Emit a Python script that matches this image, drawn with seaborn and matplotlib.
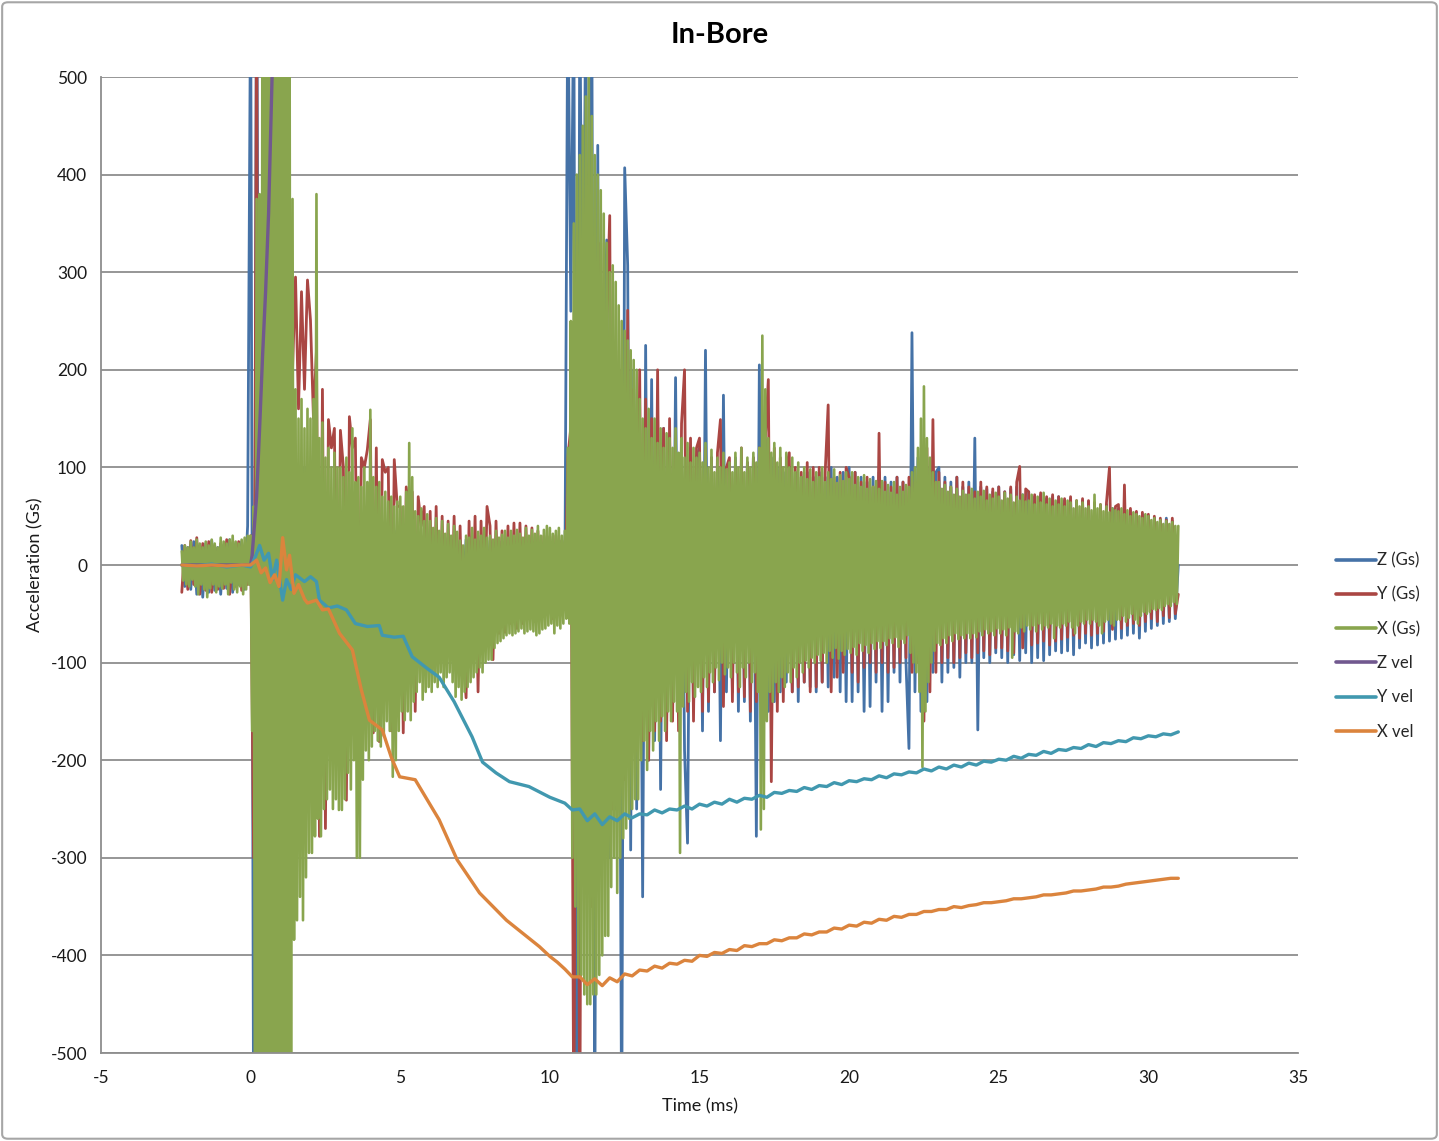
import numpy as np
import matplotlib
matplotlib.use("Agg")
import matplotlib.pyplot as plt
import seaborn as sns
from matplotlib.lines import Line2D
from matplotlib.patches import FancyBboxPatch

# ---- sampling of the acceleration channels ----
T0 = -2.3      # first sample time (ms)
DT = 0.1       # sample spacing (ms)

# Z (Gs)
z_gs = [
    20, -22, 18,
    -25, 24, -30, 20, -33, 22, -28, 25, -26, 18,
    -30, 20, -24, 26, -28, 22, -20, 24, -25, 40,
    600, -600, 700, -300, 250, -200, 200, -200, 150, -150,
    150, -150, 120, -140, 100, -120, 90, -110, 100, -100,
    90, -100, 80, -90, 70, -80, 65, -80, 60, -75,
    55, -70, 50, -65, 48, -60, 45, -58, 42, -55,
    40, -55, 40, -50, 38, -50, 35, -48, 35, -45,
    30, -45, 32, -42, 30, -40, 28, -40, 30, -38,
    28, -38, 30, -36, 27, -35, 28, -36, 26, -34,
    25, -35, 26, -33, 24, -32, 25, -30, 24, -32,
    25, -30, 23, -31, 24, -30, 22, -29, 24, -30,
    23, -28, 22, -30, 24, -28, 23, -29, 22, -27,
    24, -28, 22, -30, 25, -28, 600, 260, 600, -600,
    600, 130, 600, -300, 600, -600, 430, -250, 200, 333,
    -300, 200, -250, 150, -600, 407, 307, -292, 200, -250,
    150, -340, 225, -200, 190, -180, 150, -230, 140, -160,
    130, -150, 192, -140, 120, -190, -285, 120, -150, 110,
    120, -170, 220, -150, 110, -130, 100, -180, 174, -130,
    100, -130, 110, -150, 100, -140, 105, -160, 110, -278,
    205, -180, 128, -150, 110, -140, 100, -130, 95, -120,
    100, -130, 95, -140, 90, -120, 95, -125, 90, -130,
    95, -120, 90, -125, 100, -115, 90, -130, 95, -140,
    100, -140, 95, -130, 90, -150, 85, -145, 90, -120,
    95, -150, 90, -140, 85, -110, 90, -120, 85, -100,
    -188, 238, -130, 110, -150, 120, -140, 100, -110, 95,
    100, -120, 90, -110, 85, -105, 90, -115, 80, -100,
    85, -100, 130, -169, 80, -95, 78, -100, 75, -90,
    80, -95, 75, -100, 78, -92, 80, -98, 72, -90,
    75, -100, 70, -95, 72, -98, 68, -92, 70, -88,
    70, -90, 66, -88, 68, -92, 64, -85, 66, -80,
    65, -85, 62, -82, 60, -80, 62, -78, 58, -76,
    58, -75, 55, -72, 56, -70, 54, -75, 52, -68,
    50, -65, 48, -62, 46, -60, 48, -58, 45, -55,
    0,
]

# Y (Gs)
y_gs = [
    -28, 20, -25,
    25, -20, 28, -30, 22, -26, 24, -28, 20, -25,
    22, -24, 26, -30, 20, -22, 24, -26, 18, -20,
    30, -300, 600, -600, 377, -600, 600, 350, -400, 300,
    200, -600, 250, -400, 200, 295, 160, 280, 180, 292,
    251, 150, 220, -278, 180, -270, 149, 120, 140, -200,
    138, 100, -241, 152, 120, 130, -150, 110, 100, 118,
    149, -172, 120, -181, 108, 95, 100, -170, 108, 60,
    60, -172, 80, 50, 75, -150, 70, 40, 60, -100,
    55, -100, 60, -90, 50, -95, 45, -80, 50, -85,
    40, -90, -136, 45, -80, 50, -130, 45, -75, 60,
    40, -97, 45, -70, 35, -69, 40, -60, 43, -65,
    43, -60, 40, -55, 38, -58, 35, -55, 30, -50,
    29, -55, 30, -50, 25, -45, 110, 141, -600, 200,
    -600, 300, -300, 250, -350, 300, -280, 330, -300, 250,
    358, -250, 220, -230, 200, -220, 261, -200, 180, -190,
    200, -180, 170, -200, 150, -170, 200, -160, 140, -180,
    150, -160, 130, -170, 145, 200, -150, 130, -160, 120,
    130, -150, 120, -140, 110, -130, 115, 149, -145, 100,
    110, -140, 100, -130, 120, -135, 105, -150, 110, -140,
    120, -160, 130, 190, -222, 120, -150, 110, -140, 100,
    115, -130, 100, -125, 95, -120, 105, -130, 100, -125,
    100, -120, 95, 164, -130, 90, -115, 95, -110, 100,
    90, -110, 95, -120, 85, -105, 90, -100, 80, -110,
    135, -100, 85, -110, 80, -105, 90, -100, 85, -95,
    90, -110, 85, -100, 100, -160, 120, -130, 149, -110,
    95, -100, 85, -95, 80, -100, 90, -95, 85, -90,
    80, -95, 75, -90, 85, -88, 80, -92, 78, -85,
    80, -85, 75, -88, 80, -90, 85, 101, -85, 78,
    75, -82, 72, -80, 74, -78, 70, -82, 72, -78,
    70, -76, 68, -74, 70, -72, 66, -75, 68, -70,
    66, -72, 64, -70, 62, -68, 64, 100, -66, 60,
    62, -65, 82, -62, 58, -60, 55, -62, 54, -58,
    52, -55, 50, -58, 48, -52, 46, -54, 48, -50,
    -30,
]

# X (Gs): crest samples at T0 + i*DT, trough samples half a step later
x_gs_crest = [
    14, 20, 18,
    24, 18, 26, 22, 18, 24, 20, 26, 22, 18,
    28, 24, 22, 26, 30, 24, 22, 26, 28, 30,
    30, 60, 375, 380, 800, 900, 900, 900, 900, 900,
    900, 850, 700, 600, 375, 180, 150, 170, 140, 160,
    150, 170, 380, 130, 146, 110, 120, 100, 115, 100,
    100, 90, 110, 95, 140, 85, 90, 80, 100, 85,
    159, 90, 80, 85, 70, 75, 65, 70, 60, 65,
    70, 60, 75, 125, 90, 55, 50, 58, 45, 52,
    45, 38, 48, 35, 45, 32, 42, 30, 40, 34,
    25, 20, 30, 28, 38, 26, 34, 30, 38, 28,
    30, 26, 35, 28, 31, 35, 28, 35, 30, 36,
    32, 28, 38, 30, 36, 32, 40, 30, 36, 40,
    38, 32, 35, 38, 30, 35, 120, 250, 350, 400,
    420, 450, 480, 520, 460, 420, 400, 384, 360, 330,
    300, 307, 290, 266, 250, 240, 230, 220, 210, 200,
    170, 150, 140, 160, 130, 150, 125, 140, 120, 135,
    130, 120, 140, 115, 130, 110, 125, 105, 120, 110,
    115, 105, 125, 100, 118, 95, 110, 100, 115, 98,
    105, 95, 115, 100, 120, 95, 110, 100, 115, 105,
    120, 235, 180, 130, 115, 125, 105, 120, 100, 115,
    100, 110, 95, 105, 90, 100, 88, 98, 85, 95,
    90, 100, 85, 95, 88, 98, 84, 92, 86, 95,
    88, 95, 82, 90, 80, 92, 78, 88, 80, 86,
    78, 86, 75, 82, 74, 85, 72, 80, 75, 82,
    80, 95, 100, 120, 150, 183, 130, 110, 95, 85,
    85, 78, 82, 75, 80, 72, 78, 70, 76, 72,
    72, 78, 68, 75, 70, 76, 66, 72, 68, 74,
    70, 66, 74, 68, 72, 64, 70, 66, 72, 65,
    66, 72, 62, 70, 64, 74, 62, 68, 60, 66,
    62, 68, 60, 66, 64, 58, 66, 60, 64, 58,
    60, 56, 72, 58, 62, 55, 60, 54, 58, 56,
    55, 58, 52, 56, 50, 54, 52, 50, 48, 52,
    50, 46, 48, 44, 46, 42, 45, 42, 44, 40,
    40,
]
x_gs_trough = [
    -16, -20, -22,
    -15, -22, -30, -20, -25, -33, -24, -20, -28, -22,
    -24, -20, -30, -18, -25, -28, -22, -30, -25, -20,
    -170, -620, -700, -800, -800, -900, -900, -900, -900, -900,
    -900, -800, -700, -600, -384, -364, -340, -364, -320, -295,
    -295, -278, -260, -278, -250, -240, -230, -250, -240, -251,
    -251, -240, -213, -230, -200, -300, -300, -220, -190, -200,
    -186, -170, -180, -186, -175, -160, -170, -217, -200, -170,
    -150, -159, -150, -159, -140, -130, -120, -138, -130, -125,
    -130, -120, -125, -110, -125, -115, -110, -120, -135, -125,
    -138, -130, -125, -120, -115, -110, -105, -110, -100, -97,
    -97, -85, -80, -78, -75, -72, -70, -72, -70, -68,
    -65, -70, -68, -66, -68, -72, -70, -66, -65, -62,
    -60, -70, -62, -65, -60, -55, -60, -300, -350, -420,
    -420, -440, -450, -450, -440, -440, -420, -400, -380, -380,
    -330, -300, -336, -300, -280, -270, -260, -250, -240, -240,
    -200, -180, -210, -170, -190, -160, -180, -155, -170, -150,
    -160, -140, -150, -295, -145, -130, -140, -120, -135, -125,
    -130, -115, -125, -110, -120, -105, -118, -100, -112, -105,
    -115, -100, -110, -125, -105, -115, -100, -120, -110, -130,
    -271, -250, -160, -130, -140, -120, -130, -115, -125, -110,
    -120, -105, -115, -100, -110, -98, -105, -95, -100, -92,
    -98, -90, -100, -88, -95, -85, -96, -88, -92, -86,
    -90, -84, -92, -80, -88, -82, -90, -80, -86, -78,
    -85, -78, -82, -75, -80, -74, -84, -76, -80, -72,
    -90, -100, -110, -130, -207, -150, -120, -100, -88, -80,
    -82, -75, -80, -72, -78, -70, -76, -72, -75, -70,
    -75, -70, -74, -68, -72, -66, -70, -68, -72, -65,
    -70, -66, -72, -64, -95, -68, -70, -64, -68, -62,
    -66, -62, -68, -60, -66, -62, -64, -60, -75, -62,
    -64, -60, -62, -58, -64, -70, -62, -58, -60, -56,
    -60, -56, -58, -62, -70, -58, -56, -60, -62, -56,
    -56, -52, -58, -54, -50, -56, -60, -52, -48, -50,
    -48, -45, -46, -44, -46, -42, -40, -42, -38, -40,
]

# velocity channels: (time ms, value)
z_vel_pts = [(-2.3, 0), (-1.0, 0), (0.0, 0), (0.05, 10), (0.1, 30), (0.2, 70),
             (0.3, 140), (0.4, 215), (0.5, 280), (0.6, 360), (0.7, 480),
             (0.8, 600), (1.0, 800), (1.5, 1200)]

y_vel_pts = [(-2.3, 0), (-1.8, -1), (-1.3, 1), (-0.8, -2), (-0.3, 0), (0.0, -2),
             (0.15, 8), (0.3, 20), (0.45, 5), (0.6, 12), (0.73, -15), (0.87, 5),
             (1.07, -36), (1.2, -15), (1.35, -25), (1.5, -10), (1.8, -17),
             (2.0, -12), (2.2, -17), (2.3, -36), (2.6, -44), (2.9, -42),
             (3.2, -46), (3.5, -60), (3.9, -63), (4.3, -62), (4.4, -72),
             (4.8, -74), (5.1, -73), (5.4, -94), (5.9, -106), (6.3, -115),
             (6.8, -140), (7.4, -176), (7.75, -202), (8.2, -213), (8.65, -222),
             (9.3, -227),
             (10.0, -238), (10.25, -241), (10.5, -244), (10.75, -251), (11.0, -250),
             (11.25, -262), (11.5, -255), (11.75, -266), (12.0, -258), (12.25, -262),
             (12.5, -255), (12.75, -259), (13.0, -255), (13.25, -256), (13.5, -251),
             (13.75, -254), (14.0, -250), (14.25, -251), (14.5, -247), (14.75, -250),
             (15.0, -245), (15.25, -247), (15.5, -243), (15.75, -245), (16.0, -240),
             (16.25, -243), (16.5, -239), (16.75, -240), (17.0, -236), (17.25, -238),
             (17.5, -233), (17.75, -234), (18.0, -231), (18.25, -232), (18.5, -228),
             (18.75, -230), (19.0, -226), (19.25, -227), (19.5, -223), (19.75, -225),
             (20.0, -221), (20.25, -222), (20.5, -219), (20.75, -220), (21.0, -216),
             (21.25, -218), (21.5, -214), (21.75, -215), (22.0, -212), (22.25, -213),
             (22.5, -209), (22.75, -211), (23.0, -207), (23.25, -209), (23.5, -205),
             (23.75, -207), (24.0, -203), (24.25, -205), (24.5, -201), (24.75, -202),
             (25.0, -199), (25.25, -200), (25.5, -196), (25.75, -198), (26.0, -194),
             (26.25, -195), (26.5, -191), (26.75, -193), (27.0, -189), (27.25, -190),
             (27.5, -187), (27.75, -188), (28.0, -184), (28.25, -186), (28.5, -182),
             (28.75, -183), (29.0, -180), (29.25, -181), (29.5, -177), (29.75, -178),
             (30.0, -175), (30.25, -176), (30.5, -173), (30.75, -174), (31.0, -171)]

x_vel_pts = [(-2.3, 0), (-1.8, -1), (-1.3, 0), (-0.8, -1), (-0.3, 0), (0.0, 0),
             (0.2, 5), (0.35, -8), (0.5, -3), (0.65, -18), (0.8, -10), (0.95, -22),
             (1.07, 28), (1.2, -5), (1.3, 10), (1.45, -29), (1.6, -20), (1.8, -35),
             (1.9, -39), (2.2, -36), (2.4, -46), (2.6, -45), (2.97, -70),
             (3.4, -87), (3.7, -128), (3.97, -159), (4.4, -169), (4.7, -197),
             (4.98, -217), (5.5, -220), (6.3, -261), (6.9, -302), (7.65, -336),
             (8.55, -364), (9.65, -391),
             (10.0, -401), (10.25, -407), (10.5, -414), (10.75, -422), (11.0, -422),
             (11.25, -430), (11.5, -424), (11.75, -431), (12.0, -423), (12.25, -427),
             (12.5, -419), (12.75, -421), (13.0, -415), (13.25, -416), (13.5, -411),
             (13.75, -413), (14.0, -408), (14.25, -409), (14.5, -405), (14.75, -406),
             (15.0, -400), (15.25, -401), (15.5, -397), (15.75, -398), (16.0, -394),
             (16.25, -395), (16.5, -390), (16.75, -391), (17.0, -388), (17.25, -388),
             (17.5, -384), (17.75, -385), (18.0, -382), (18.25, -382), (18.5, -378),
             (18.75, -379), (19.0, -376), (19.25, -376), (19.5, -372), (19.75, -373),
             (20.0, -369), (20.25, -370), (20.5, -366), (20.75, -367), (21.0, -363),
             (21.25, -364), (21.5, -360), (21.75, -361), (22.0, -358), (22.25, -358),
             (22.5, -355), (22.75, -355), (23.0, -353), (23.25, -353), (23.5, -350),
             (23.75, -351), (24.0, -349), (24.25, -348), (24.5, -346), (24.75, -346),
             (25.0, -345), (25.25, -344), (25.5, -342), (25.75, -342), (26.0, -341),
             (26.25, -340), (26.5, -338), (26.75, -338), (27.0, -337), (27.25, -336),
             (27.5, -334), (27.75, -334), (28.0, -333), (28.25, -332), (28.5, -330),
             (28.75, -330), (29.0, -329), (29.25, -327), (29.5, -326), (29.75, -325),
             (30.0, -324), (30.25, -323), (30.5, -322), (30.75, -321), (31.0, -321)]

series_names = ["Z (Gs)", "Y (Gs)", "X (Gs)", "Z vel", "Y vel", "X vel"]
series_colors = ["#4572A7", "#AA4643", "#89A54E", "#71588F", "#4198AF", "#DB843D"]

x_ticks = [-5, 0, 5, 10, 15, 20, 25, 30, 35]
y_ticks = [-500, -400, -300, -200, -100, 0, 100, 200, 300, 400, 500]

title_text = "In-Bore"
x_label = "Time (ms)"
y_label = "Acceleration (Gs)"

# ---- drawing ----
sns.set_theme(style="white")
plt.rcParams['font.family'] = ['Lato', 'DejaVu Sans']

W, H = 1439, 1141
fig = plt.figure(figsize=(W / 100, H / 100), dpi=100)
fig.patch.set_facecolor("white")
ax = fig.add_axes([101 / W, 1 - 1053 / H, (1298 - 101) / W, (1053 - 77) / H])
ax.set_facecolor("white")


def grid_times(vals, offset=0.0):
    return T0 + offset + DT * np.arange(len(vals))


for vals, col in zip([z_gs, y_gs], series_colors[:2]):
    sns.lineplot(x=grid_times(vals), y=np.asarray(vals, float), ax=ax, color=col,
                 lw=2.0, estimator=None, sort=False, legend=False)

# interleave the X crest / trough samples in time order
xt = np.concatenate([grid_times(x_gs_crest), grid_times(x_gs_trough, DT / 2)])
xv = np.concatenate([np.asarray(x_gs_crest, float), np.asarray(x_gs_trough, float)])
order = np.argsort(xt, kind="stable")
sns.lineplot(x=xt[order], y=xv[order], ax=ax, color=series_colors[2],
             lw=1.9, estimator=None, sort=False, legend=False)

for pts, col in zip([z_vel_pts, y_vel_pts, x_vel_pts], series_colors[3:]):
    tt, vv = zip(*pts)
    sns.lineplot(x=np.asarray(tt), y=np.asarray(vv, float), ax=ax, color=col,
                 lw=2.4, estimator=None, sort=False, legend=False)

ax.set_xlim(-5, 35)
ax.set_ylim(-500, 500)
ax.set_xticks(x_ticks)
ax.set_yticks(y_ticks)
ax.set_xticklabels([str(v) for v in x_ticks])
ax.set_yticklabels([str(v) for v in y_ticks])
ax.set_xlabel("")
ax.set_ylabel("")
ax.set_axisbelow(True)
ax.yaxis.grid(True, color="#8E8E8E", lw=1.3)
ax.xaxis.grid(False)
for side in ["top", "right"]:
    ax.spines[side].set_visible(False)
for side in ["left", "bottom"]:
    ax.spines[side].set_color("#8E8E8E")
    ax.spines[side].set_linewidth(1.3)
ax.tick_params(axis="both", length=0, labelsize=12.5, colors="#1a1a1a")
ax.tick_params(axis="x", pad=12)
ax.tick_params(axis="y", pad=10)

fig.text(720 / W, 1 - 35 / H, title_text, ha="center", va="center",
         fontsize=21, fontweight="bold", color="#000000")
fig.text(700 / W, 1 - 1106 / H, x_label, ha="center", va="center",
         fontsize=13, color="#1a1a1a")
fig.text(35 / W, 1 - 565 / H, y_label, ha="center", va="center",
         fontsize=13, rotation=90, color="#1a1a1a")

handles = [Line2D([0], [0], color=c, lw=2.6) for c in series_colors]
fig.legend(handles, series_names, loc="center left",
           bbox_to_anchor=(1336 / W, 1 - 646 / H), frameon=False, fontsize=12,
           handlelength=2.4, handletextpad=0.05, labelspacing=1.09,
           borderaxespad=0, borderpad=0)

border = FancyBboxPatch((0.0015, 0.002), 0.997, 0.996,
                        boxstyle="round,pad=0,rounding_size=0.004",
                        transform=fig.transFigure, fill=False,
                        ec="#A6A6A6", lw=1.5)
fig.patches.append(border)

fig.savefig("out.png", dpi=100, facecolor="white")
